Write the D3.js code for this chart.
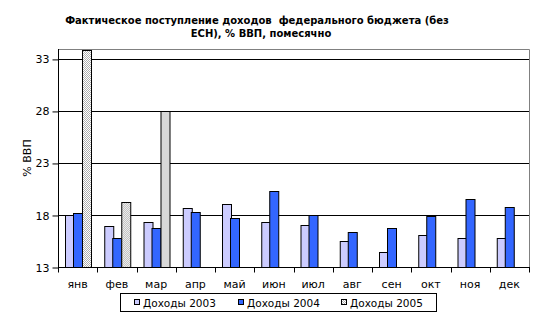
<!DOCTYPE html>
<html>
<head>
<meta charset="utf-8">
<script src="https://cdn.jsdelivr.net/npm/d3@7/dist/d3.min.js"></script>
<style>
  html, body { margin: 0; padding: 0; background: #fff; }
  svg { display: block; }
  text { font-family: "DejaVu Sans", Verdana, sans-serif; }
</style>
</head>
<body>
<svg id="chart" width="540" height="322"></svg>
<script>
// Monthly federal budget revenue (excluding unified social tax), % of GDP
const months = ["янв", "фев", "мар", "апр", "май", "июн", "июл", "авг", "сен", "окт", "ноя", "дек"];
const seriesNames = ["Доходы 2003", "Доходы 2004", "Доходы 2005"];
const rev2003 = [18.0, 16.9, 17.3, 18.7, 19.1, 17.3, 17.0, 15.5, 14.4, 16.1, 15.8, 15.8];
const rev2004 = [18.2, 15.8, 16.75, 18.3, 17.7, 20.3, 18.0, 16.4, 16.75, 17.9, 19.55, 18.8];
const rev2005 = [33.9, 19.25, 28.0, null, null, null, null, null, null, null, null, null];
const yTicks = [13, 18, 23, 28, 33];
const titleLines = ["Фактическое поступление доходов  федерального бюджета (без", "ЕСН), % ВВП, помесячно"];
const yTitle = "% ВВП";

const values = [rev2003, rev2004, rev2005];
const fills = ["#CCCCFF", "#3366FF", "url(#checker)"];

const svg = d3.select("#chart");

// checkerboard fill for the 2005 series
const defs = svg.append("defs");
const pat = defs.append("pattern")
  .attr("id", "checker").attr("patternUnits", "userSpaceOnUse")
  .attr("width", 2).attr("height", 2);
pat.append("rect").attr("width", 2).attr("height", 2).attr("fill", "#ffffff");
pat.append("rect").attr("x", 0).attr("y", 0).attr("width", 1).attr("height", 1).attr("fill", "#b0b0b0");
pat.append("rect").attr("x", 1).attr("y", 1).attr("width", 1).attr("height", 1).attr("fill", "#b0b0b0");

const plot = { left: 58, right: 529, top: 48.5, bottom: 267 };

const x0 = d3.scaleBand().domain(months).range([plot.left, plot.right]).padding(0);
const x1 = d3.scaleBand().domain(d3.range(seriesNames.length))
  .range([0, x0.bandwidth()]).paddingInner(0).paddingOuter(0.75);
const y = d3.scaleLinear().domain([13, 34]).range([plot.bottom, plot.top]);

// title (keeps the double space as written)
svg.append("g").selectAll("text").data(titleLines).join("text")
  .attr("x", (d, i) => i === 0 ? 257 : 261)
  .attr("y", (d, i) => 24 + i * 13)
  .attr("text-anchor", "middle")
  .attr("font-size", "10px")
  .attr("font-weight", "bold")
  .style("white-space", "pre")
  .text(d => d);

// plot frame (top/right)
svg.append("path")
  .attr("d", `M${plot.left},${Math.round(plot.top) + 0.5}H${plot.right + 0.5}V${plot.bottom}`)
  .attr("fill", "none").attr("stroke", "#808080").attr("stroke-width", 1);

// horizontal gridlines
svg.append("g").selectAll("line").data(yTicks.filter(t => t > 13)).join("line")
  .attr("x1", plot.left).attr("x2", plot.right)
  .attr("y1", d => Math.round(y(d)) + 0.5).attr("y2", d => Math.round(y(d)) + 0.5)
  .attr("stroke", "#000").attr("stroke-width", 1);

// bars
const groups = svg.append("g").selectAll("g").data(months).join("g")
  .attr("transform", d => `translate(${x0(d)},0)`);
groups.selectAll("rect")
  .data((m, i) => values.map((s, k) => ({ k, v: s[i] })).filter(d => d.v != null))
  .join("rect")
  .attr("x", d => Math.round(x1(d.k)) + 0.5)
  .attr("width", Math.round(x1.bandwidth()))
  .attr("y", d => Math.round(y(d.v)) + 0.5)
  .attr("height", d => Math.round(y(13)) - Math.round(y(d.v)))
  .attr("fill", d => fills[d.k])
  .attr("stroke", "#000").attr("stroke-width", 1);

// y axis
const yAxis = d3.axisLeft(y).tickValues(yTicks).tickSize(6).tickPadding(3).tickFormat(d3.format("d"));
const gy = svg.append("g")
  .attr("transform", `translate(${plot.left + 0.5},0.5)`)
  .call(yAxis);
gy.select(".domain").attr("d", `M0,${plot.top}V${plot.bottom}`).attr("stroke", "#000");
gy.selectAll(".tick line").attr("stroke", "#000");
gy.selectAll(".tick text").attr("font-size", "11px").attr("fill", "#000")
  .attr("font-family", "DejaVu Sans, sans-serif");

// x axis: tick marks at category boundaries
const gx = svg.append("g").attr("transform", `translate(0,${Math.round(plot.bottom) + 0.5})`);
gx.append("line").attr("x1", plot.left).attr("x2", plot.right + 1).attr("stroke", "#000");
gx.selectAll("line.tk").data(months.concat(["end"])).join("line").attr("class", "tk")
  .attr("x1", (d, i) => Math.round(i < months.length ? x0(d) : plot.right) + 0.5)
  .attr("x2", (d, i) => Math.round(i < months.length ? x0(d) : plot.right) + 0.5)
  .attr("y1", 0).attr("y2", 5).attr("stroke", "#000");
gx.selectAll("text").data(months).join("text")
  .attr("x", d => x0(d) + x0.bandwidth() / 2)
  .attr("y", 20)
  .attr("text-anchor", "middle")
  .attr("font-size", "11px")
  .text(d => d);

// y axis title
svg.append("text")
  .attr("transform", `translate(31,158) rotate(-90)`)
  .attr("text-anchor", "middle")
  .attr("font-size", "11px")
  .text(yTitle);

// legend
const legend = svg.append("g");
legend.append("rect").attr("x", 120.5).attr("y", 293.5).attr("width", 316).attr("height", 18)
  .attr("fill", "#fff").attr("stroke", "#000");
const legendX = [134, 238, 341];
const li = legend.selectAll("g.item").data(seriesNames).join("g").attr("class", "item")
  .attr("transform", (d, i) => `translate(${legendX[i]},0)`);
li.append("rect").attr("x", 0.5).attr("y", 299.5).attr("width", 5).attr("height", 5)
  .attr("fill", (d, i) => fills[i]).attr("stroke", "#000");
li.append("text").attr("x", 9).attr("y", 306.5).attr("font-size", "10.5px").text(d => d);
</script>
</body>
</html>
